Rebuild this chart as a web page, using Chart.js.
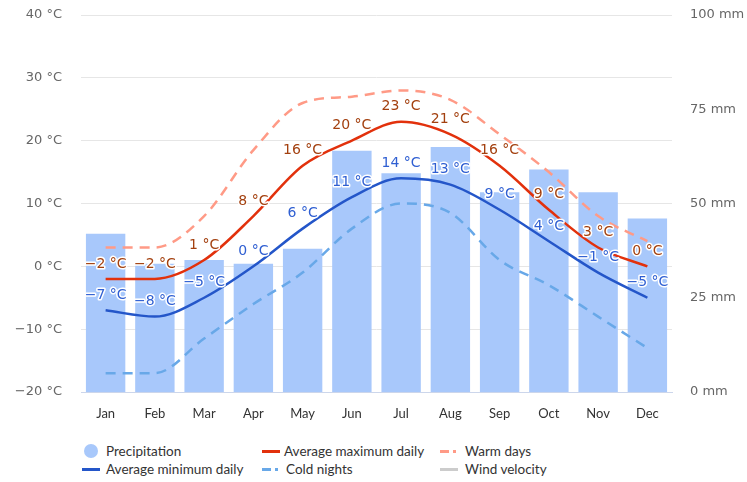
<!DOCTYPE html>
<html>
<head>
<meta charset="utf-8">
<script src="https://cdn.jsdelivr.net/npm/chart.js@4"></script>
<style>
  body { margin: 0; background: #fff; }
  #wrap { position: relative; width: 747px; height: 482px; }
  #legend { position: absolute; left: 0; top: 442px; width: 747px; font-family: "Lato", sans-serif; font-size: 13.5px; color: #333; }
  .item { position: absolute; height: 18px; line-height: 18px; white-space: nowrap; }
  .sw { position: absolute; top: 8px; height: 3px; }
</style>
</head>
<body>
<div id="wrap">
  <canvas id="chart" width="747" height="440"></canvas>
  <div id="legend"></div>
</div>
<script>
const months = ['Jan', 'Feb', 'Mar', 'Apr', 'May', 'Jun', 'Jul', 'Aug', 'Sep', 'Oct', 'Nov', 'Dec']
const precipitation = [42, 34, 35, 34, 38, 64, 58, 65, 53, 59, 53, 46]
const avgMax = [-2, -2, 1, 8, 16, 20, 23, 21, 16, 9, 3, 0]
const avgMin = [-7, -8, -5, 0, 6, 11, 14, 13, 9, 4, -1, -5]
const warmDays = [3, 3, 8, 18.5, 26, 27, 28, 26.5, 21, 15, 8, 4]
const coldNights = [-17, -17, -11.5, -6, -1, 6, 10, 8.5, 1, -3, -8, -13]
const windVelocity = []

const fmtC = v => (v < 0 ? '\u2212' + Math.abs(v) : v) + ' °C'

const pointLabels = {
  id: 'pointLabels',
  afterDatasetsDraw (chart) {
    const ctx = chart.ctx
    chart.data.datasets.forEach((ds, i) => {
      if (!ds.labelColor) return
      const meta = chart.getDatasetMeta(i)
      ctx.save()
      ctx.font = '14px "DejaVu Sans", sans-serif'
      ctx.textAlign = 'center'
      ctx.textBaseline = 'middle'
      ctx.lineJoin = 'round'
      meta.data.forEach((pt, j) => {
        const txt = fmtC(ds.data[j])
        ctx.lineWidth = 3
        ctx.strokeStyle = '#fff'
        ctx.strokeText(txt, pt.x, pt.y - 15)
        ctx.fillStyle = ds.labelColor
        ctx.fillText(txt, pt.x, pt.y - 15)
      })
      ctx.restore()
    })
  }
}

const lineBase = { type: 'line', yAxisID: 'y', borderWidth: 2.5, pointRadius: 0, cubicInterpolationMode: 'monotone' }
const noPad = s => { s.paddingTop = 0; s.paddingBottom = 0 }

const chart = new Chart(document.getElementById('chart'), {
  data: {
    labels: months,
    datasets: [
      { ...lineBase, label: 'Average maximum daily', data: avgMax, borderColor: '#e2310c', labelColor: '#a3400f', order: 1 },
      { ...lineBase, label: 'Average minimum daily', data: avgMin, borderColor: '#2456c9', labelColor: '#2f5fd2', order: 2 },
      { ...lineBase, label: 'Warm days', data: warmDays, borderColor: '#ff9a86', borderDash: [10, 7], order: 3 },
      { ...lineBase, label: 'Cold nights', data: coldNights, borderColor: '#68a8e8', borderDash: [10, 7], order: 4 },
      { ...lineBase, label: 'Wind velocity', data: windVelocity, borderColor: '#cccccc', order: 5 },
      {
        type: 'bar', label: 'Precipitation', data: precipitation, yAxisID: 'y1',
        backgroundColor: '#a8c8fb', barPercentage: 0.8, categoryPercentage: 1, order: 10
      }
    ]
  },
  options: {
    responsive: false,
    animation: false,
    layout: { padding: { top: 15, left: 0, right: 0, bottom: 0 } },
    plugins: { legend: { display: false }, tooltip: { enabled: false } },
    scales: {
      x: {
        grid: { display: false, drawTicks: false },
        border: { color: '#ccd6eb' },
        ticks: { color: '#333', padding: 14, font: { family: 'Lato, sans-serif', size: 13 } },
        afterFit: s => { s.height = 48; s.paddingLeft = 0; s.paddingRight = 0 }
      },
      y: {
        position: 'left', min: -20, max: 40,
        grid: { color: '#e6e6e6', drawTicks: false },
        border: { display: false },
        ticks: { stepSize: 10, color: '#666', padding: 19, font: { family: '"DejaVu Sans", sans-serif', size: 13 }, callback: v => fmtC(v) },
        afterFit: s => { s.width = 81; noPad(s) }
      },
      y1: {
        position: 'right', min: 0, max: 100,
        grid: { display: false, drawTicks: false },
        border: { display: false },
        ticks: { stepSize: 25, color: '#666', padding: 18, font: { family: '"DejaVu Sans", sans-serif', size: 13 }, callback: v => v + ' mm' },
        afterFit: s => { s.width = 75; noPad(s) }
      }
    }
  },
  plugins: [pointLabels]
})

// legend in three columns
const legendItems = [
  { name: 'Precipitation', kind: 'dot', color: '#a8c8fb', x: 84, y: 0, tx: 106 },
  { name: 'Average maximum daily', kind: 'line', color: '#e2310c', x: 262, y: 0, tx: 284 },
  { name: 'Warm days', kind: 'dash', color: '#ff9a86', x: 440, y: 0, tx: 465 },
  { name: 'Average minimum daily', kind: 'line', color: '#2456c9', x: 82, y: 18, tx: 106 },
  { name: 'Cold nights', kind: 'dash', color: '#68a8e8', x: 262, y: 18, tx: 286 },
  { name: 'Wind velocity', kind: 'line', color: '#cccccc', x: 440, y: 18, tx: 465 }
]
const legend = document.getElementById('legend')
legendItems.forEach(it => {
  const el = document.createElement('div')
  el.className = 'item'
  el.style.left = it.x + 'px'
  el.style.top = it.y + 'px'
  let sw
  if (it.kind === 'dot') {
    sw = '<span style="position:absolute;left:0;top:2px;width:14px;height:14px;border-radius:50%;background:' + it.color + '"></span>'
  } else if (it.kind === 'line') {
    sw = '<span class="sw" style="left:0;width:18px;background:' + it.color + '"></span>'
  } else {
    sw = '<span class="sw" style="left:0;width:9px;background:' + it.color + '"></span>' +
         '<span class="sw" style="left:13px;width:3px;background:' + it.color + '"></span>'
  }
  el.innerHTML = sw + '<span style="margin-left:' + (it.tx - it.x) + 'px">' + it.name + '</span>'
  legend.appendChild(el)
})
</script>
</body>
</html>
